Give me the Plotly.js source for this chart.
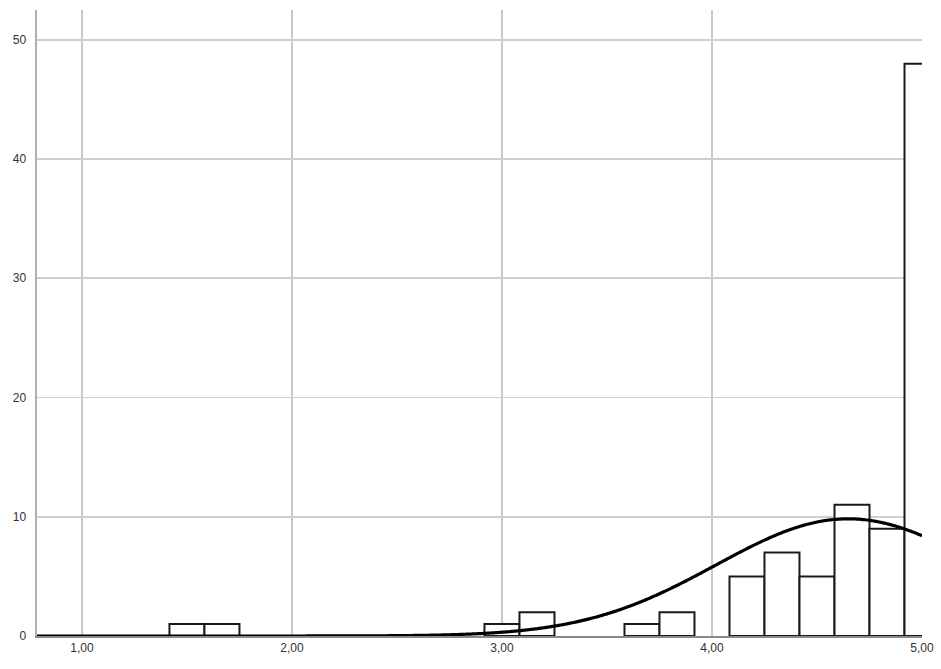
<!DOCTYPE html>
<html>
<head>
<meta charset="utf-8">
<script src="https://cdn.plot.ly/plotly-3.0.1.min.js"></script>
<style>
  html, body { margin: 0; padding: 0; background: #fff; }
  #chart { width: 941px; height: 669px; }
</style>
</head>
<body>
<div id="chart"></div>
<script>
// Histogram bins (centres) and their frequencies
const binCenters = [1.5, 1.6667, 3.0, 3.1667, 3.6667, 3.8333, 4.1667, 4.3333, 4.5, 4.6667, 4.8333, 5.0];
const counts     = [1,   1,      1,   2,      1,      2,      5,      7,      5,   11,     9,      48];
const binWidth = 1 / 6;

const xTickVals = [1, 2, 3, 4, 5];
const xTickText = ['1,00', '2,00', '3,00', '4,00', '5,00'];
const yTickVals = [0, 10, 20, 30, 40, 50];

// Normal curve fitted to the binned counts (mean, sd and N from the histogram)
const n = counts.reduce((a, b) => a + b, 0);
const mean = binCenters.reduce((s, x, i) => s + x * counts[i], 0) / n;
const variance = binCenters.reduce((s, x, i) => s + counts[i] * (x - mean) ** 2, 0) / (n - 1);
const sd = Math.sqrt(variance);
const curveX = [];
const curveY = [];
for (let x = 0.78; x <= 5.0001; x += 0.01) {
  const z = (x - mean) / sd;
  curveX.push(x);
  curveY.push(n * binWidth * Math.exp(-0.5 * z * z) / (sd * Math.sqrt(2 * Math.PI)));
}

const bars = {
  type: 'bar',
  x: binCenters,
  y: counts,
  width: binWidth,
  marker: { color: '#ffffff', line: { color: '#1a1a1a', width: 2 } },
  hoverinfo: 'x+y'
};

const curve = {
  type: 'scatter',
  mode: 'lines',
  x: curveX,
  y: curveY,
  line: { color: '#000000', width: 3.2, shape: 'spline' },
  hoverinfo: 'skip'
};

const layout = {
  width: 941,
  height: 669,
  margin: { l: 37, r: 19, t: 10, b: 33 },
  paper_bgcolor: '#ffffff',
  plot_bgcolor: '#ffffff',
  showlegend: false,
  separators: ',.',
  font: { family: 'Liberation Sans, Arial, sans-serif', size: 12, color: '#333333' },
  xaxis: {
    range: [0.786, 5.0],
    tickvals: xTickVals,
    ticktext: xTickText,
    showgrid: true,
    gridcolor: '#c8c8c8',
    gridwidth: 1.3,
    zeroline: false,
    showline: true,
    linecolor: '#8a8a8a',
    linewidth: 2,
    ticks: '',
    tickfont: { size: 12, color: '#333333' }
  },
  yaxis: {
    range: [0, 52.5],
    tickvals: yTickVals,
    showgrid: true,
    gridcolor: '#cfcfcf',
    gridwidth: 1.8,
    zeroline: false,
    showline: true,
    linecolor: '#b0b0b0',
    linewidth: 2.5,
    ticks: '',
    ticklabelstandoff: 6,
    tickfont: { size: 12, color: '#333333' }
  },
  bargap: 0
};

Plotly.newPlot('chart', [bars, curve], layout, { displayModeBar: false, staticPlot: true });
</script>
</body>
</html>
